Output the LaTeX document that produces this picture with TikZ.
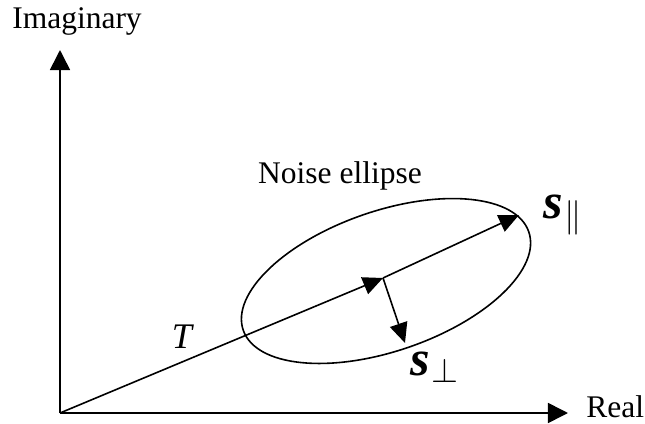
\documentclass[tikz,border=0pt]{standalone}
\usepackage{fontspec}
\setmainfont{Liberation Serif}
\usetikzlibrary{arrows.meta}

\begin{document}
\begin{tikzpicture}[
  x = 0.5pt, y = -0.5pt,
  axis/.style  = {-{Triangle[length=10pt, width=10pt]}, line width=0.8pt},
  vec/.style   = {-{Triangle[length=10pt, width=9pt]}, line width=0.8pt},
  lbl/.style   = {inner sep=0pt, anchor=base, font=\fontsize{15.75}{19}\selectfont},
  svec/.style  = {inner sep=0pt, anchor=base west, font=\fontsize{25}{29}\selectfont},
]
\useasboundingbox (0,0) rectangle (645,424);

%% ── Anchor points ─────────────────────────────────────────────────
\coordinate (origin)  at (60,413);
\coordinate (imtip)   at (60,50);
\coordinate (retip)   at (568,413);
\coordinate (centre)  at (383,278);
\coordinate (ecentre) at (386,281);
\coordinate (partip)  at (519,215);
\coordinate (perptip) at (405,343);

%% ── Axes ──────────────────────────────────────────────────────────
\draw[axis] (origin) -- (imtip);
\draw[axis] (origin) -- (retip);
\node[lbl] (imlabel) at (77,28) {Imaginary};
\node[lbl, anchor=base west] (relabel) at (586,417) {Real};

%% ── Noise ellipse ─────────────────────────────────────────────────
\draw[line width=0.8pt, rotate around={19:(ecentre)}]
  (ecentre) ellipse [x radius=151, y radius=70];
\node[lbl] (noiselabel) at (340,183) {Noise ellipse};

%% ── Vectors ───────────────────────────────────────────────────────
\draw[vec] (origin) -- (centre);
\draw[vec] (centre) -- (partip);
\draw[vec] (centre) -- (perptip);
\node[lbl, font=\fontsize{18}{21}\selectfont] (tlabel) at (183,348) {\textit{T}};
\node[svec] (spar)  at (543,218) {\textbf{\textit{s}}\kern1pt$_{\parallel}$};
\node[svec] (sperp) at (410,375) {\textbf{\textit{s}}\kern1pt$_{\perp}$};

\end{tikzpicture}
\end{document}
